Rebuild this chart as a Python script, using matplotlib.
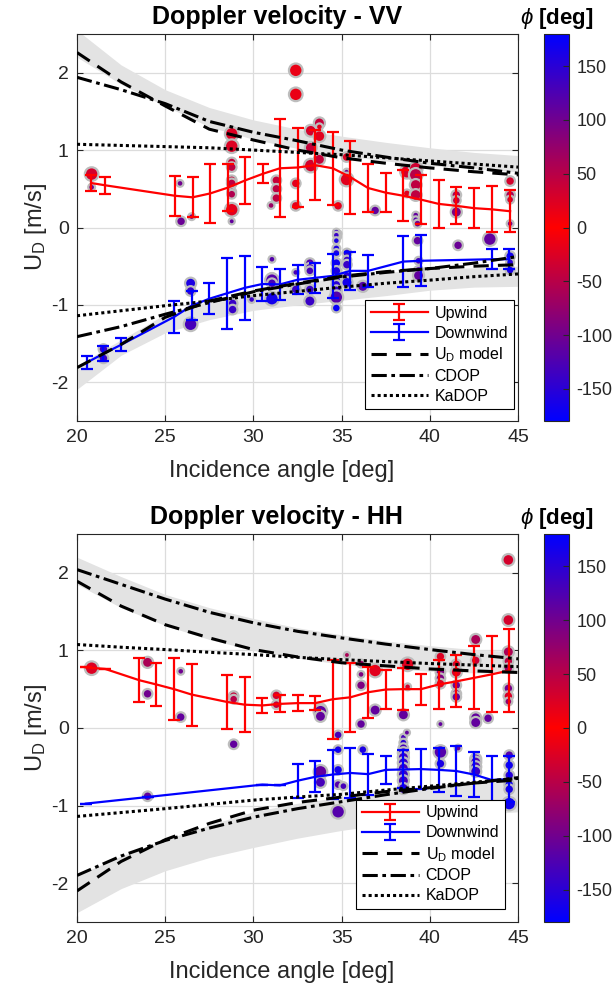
import numpy as np
import matplotlib
matplotlib.use("Agg")
import matplotlib.pyplot as plt
from matplotlib.colors import LinearSegmentedColormap

plt.rcParams['font.family'] = ['Liberation Sans', 'DejaVu Sans']
plt.rcParams['mathtext.fontset'] = 'custom'
plt.rcParams['mathtext.rm'] = 'Liberation Sans'
plt.rcParams['mathtext.it'] = 'Liberation Sans:italic'
plt.rcParams['mathtext.bf'] = 'Liberation Sans:bold'
plt.rcParams['axes.unicode_minus'] = False

# ---- model curves, read at these incidence angles ----
theta = [20, 22.5, 25, 27.5, 30, 32.5, 35, 37.5, 40, 42.5, 45]

# VV
vv_ud_up = [2.26, 1.88, 1.57, 1.27, 1.13, 1.00, 0.90, 0.83, 0.77, 0.72, 0.68]
vv_cdop_up = [1.94, 1.78, 1.60, 1.37, 1.23, 1.12, 1.00, 0.91, 0.83, 0.77, 0.70]
vv_kadop_up = [1.075, 1.06, 1.045, 1.03, 1.00, 0.97, 0.94, 0.90, 0.86, 0.82, 0.78]
vv_band_up_hi = [2.55, 2.10, 1.78, 1.55, 1.39, 1.27, 1.18, 1.10, 1.03, 0.97, 0.93]
vv_band_up_lo = [2.20, 1.85, 1.57, 1.30, 1.14, 1.02, 0.93, 0.86, 0.80, 0.76, 0.72]
vv_ud_dn = [-1.81, -1.51, -1.16, -0.95, -0.82, -0.72, -0.63, -0.57, -0.53, -0.50, -0.48]
vv_cdop_dn = [-1.41, -1.28, -1.12, -0.97, -0.83, -0.73, -0.64, -0.58, -0.53, -0.46, -0.375]
vv_kadop_dn = [-1.14, -1.075, -1.01, -0.95, -0.88, -0.825, -0.77, -0.72, -0.68, -0.635, -0.60]
vv_band_dn_lo = [-2.09, -1.65, -1.36, -1.19, -1.07, -1.00, -0.94, -0.88, -0.81, -0.77, -0.76]
vv_band_dn_hi = [-1.78, -1.45, -1.12, -0.95, -0.82, -0.72, -0.64, -0.58, -0.54, -0.52, -0.50]

# HH
hh_ud_up = [1.89, 1.57, 1.33, 1.16, 1.01, 0.915, 0.84, 0.80, 0.76, 0.735, 0.715]
hh_cdop_up = [2.04, 1.85, 1.66, 1.49, 1.355, 1.245, 1.16, 1.08, 1.01, 0.945, 0.89]
hh_kadop_up = [1.075, 1.04, 1.01, 0.975, 0.945, 0.91, 0.88, 0.855, 0.83, 0.81, 0.79]
hh_band_up_hi = [2.20, 1.95, 1.72, 1.55, 1.41, 1.29, 1.20, 1.12, 1.06, 1.01, 0.98]
hh_band_up_lo = [1.85, 1.55, 1.32, 1.14, 1.00, 0.90, 0.82, 0.77, 0.73, 0.71, 0.70]
hh_ud_dn = [-2.10, -1.72, -1.44, -1.23, -1.06, -0.96, -0.89, -0.82, -0.77, -0.71, -0.67]
hh_cdop_dn = [-1.90, -1.65, -1.45, -1.29, -1.15, -1.04, -0.95, -0.86, -0.78, -0.71, -0.64]
hh_kadop_dn = [-1.14, -1.09, -1.04, -0.985, -0.93, -0.89, -0.855, -0.80, -0.75, -0.70, -0.65]
hh_band_dn_lo = [-2.38, -2.07, -1.84, -1.67, -1.54, -1.42, -1.32, -1.24, -1.17, -1.12, -1.08]
hh_band_dn_hi = [-1.90, -1.65, -1.44, -1.25, -1.08, -0.97, -0.89, -0.82, -0.76, -0.70, -0.65]

# ---- binned means with std ----
vv_up_x = [20.8, 21.6, 25.55, 26.55, 27.55, 28.55, 29.55, 30.55, 31.5, 32.5, 33.5,
           34.5, 35.5, 36.5, 37.5, 38.5, 39.5, 40.5, 41.5, 42.5, 43.5, 44.55]
vv_up_y = [0.575, 0.545, 0.41, 0.39, 0.44, 0.515, 0.61, 0.695, 0.765, 0.775, 0.805,
           0.765, 0.65, 0.51, 0.45, 0.41, 0.36, 0.305, 0.28, 0.25, 0.235, 0.21]
vv_up_e = [0.105, 0.11, 0.26, 0.26, 0.38, 0.305, 0.30, 0.125, 0.635, 0.515, 0.455,
           0.475, 0.47, 0.31, 0.25, 0.33, 0.32, 0.315, 0.24, 0.26, 0.295, 0.27]
vv_dn_x = [20.55, 21.5, 22.5, 25.5, 26.5, 27.5, 28.5, 29.5, 30.5, 31.5, 32.5,
           33.5, 34.5, 35.5, 36.5, 38.5, 39.5, 43.5, 44.5]
vv_dn_y = [-1.745, -1.63, -1.515, -1.155, -1.01, -0.92, -0.85, -0.78, -0.73, -0.735, -0.675,
           -0.65, -0.625, -0.56, -0.56, -0.44, -0.43, -0.41, -0.41]
vv_dn_e = [0.085, 0.095, 0.085, 0.205, 0.19, 0.20, 0.455, 0.415, 0.22, 0.20, 0.185,
           0.19, 0.285, 0.25, 0.21, 0.33, 0.33, 0.13, 0.13]

hh_up_x = [20.5, 21.6, 23.53, 24.5, 25.5, 26.5, 28.5, 29.5, 30.5, 31.5, 32.5, 33.5,
           34.5, 35.5, 36.5, 37.5, 38.5, 39.5, 40.5, 41.5, 42.5, 43.5, 44.5]
hh_up_y = [0.78, 0.76, 0.615, 0.56, 0.50, 0.43, 0.335, 0.30, 0.29, 0.31, 0.32, 0.32,
           0.37, 0.395, 0.46, 0.495, 0.50, 0.50, 0.56, 0.60, 0.645, 0.69, 0.74]
hh_up_e = [0.0, 0.0, 0.285, 0.28, 0.40, 0.40, 0.35, 0.35, 0.10, 0.11, 0.105, 0.09,
           0.51, 0.445, 0.33, 0.255, 0.275, 0.20, 0.32, 0.335, 0.405, 0.49, 0.53]
hh_dn_x = [20.5, 24.0, 30.5, 31.5, 32.5, 33.5, 34.5, 35.5, 36.5, 37.5, 38.5, 39.5,
           40.5, 41.5, 42.5, 43.5, 44.5]
hh_dn_y = [-0.975, -0.89, -0.73, -0.74, -0.68, -0.63, -0.60, -0.58, -0.595, -0.54, -0.535,
           -0.53, -0.54, -0.555, -0.60, -0.67, -0.66]
hh_dn_e = [0.0, 0.0, 0.0, 0.0, 0.22, 0.20, 0.32, 0.32, 0.265, 0.18, 0.245, 0.255,
           0.28, 0.325, 0.29, 0.31, 0.30]

# ---- individual samples: incidence, U_D, phi, number of samples ----
vv_sc_x = [20.83, 20.83, 25.84, 25.9, 26.5, 28.77, 28.77, 28.77, 28.77, 28.77, 28.77, 28.77,
           28.77, 28.77, 28.77, 31.0, 31.3, 31.3, 31.3, 32.4, 32.4, 32.4, 32.4, 33.25, 33.25,
           33.25, 33.74, 33.74, 33.74, 33.74, 34.8, 35.28, 35.28, 35.28, 36.9, 38.7, 38.7,
           39.2, 39.2, 39.2, 39.2, 39.2, 39.2, 41.5, 41.5, 41.5, 44.55, 44.55, 44.55, 44.55,
           39.3, 39.3, 41.6, 43.4, 34.8, 34.8,
           21.5, 21.5, 26.44, 26.44, 26.44, 28.82, 28.82, 29.9, 31.05, 31.05, 31.05, 31.05,
           31.05, 32.4, 32.4, 33.2, 33.2, 33.2, 33.2, 33.2, 34.7, 34.7, 34.7, 34.7, 34.7,
           34.7, 34.7, 34.7, 34.7, 34.7, 34.7, 34.7, 35.3, 35.3, 35.3, 35.3, 35.3, 36.2,
           39.36, 39.36, 39.36, 44.55, 44.55, 44.55]
vv_sc_y = [0.69, 0.52, 0.57, 0.08, 0.14, 1.21, 1.05, 0.84, 0.78, 0.61, 0.57, 0.46,
           0.43, 0.23, 0.08, 0.285, 0.61, 0.50, 0.38, 2.03, 1.72, 0.57, 0.28, 1.25, 1.03,
           0.80, 1.35, 1.30, 1.18, 0.88, 0.28, 0.91, 0.72, 0.62, 0.22, 0.72, 0.44,
           0.76, 0.68, 0.55, 0.42, 0.16, 0.10, 0.42, 0.35, 0.20, 0.60, 0.42, 0.36, 0.05,
           -0.17, 0.05, -0.23, -0.15, -0.08, -0.12,
           -1.57, -1.69, -0.72, -0.82, -1.25, -0.98, -1.06, -0.93, -0.41, -0.65, -0.68, -0.72,
           -0.92, -0.58, -0.80, -0.46, -0.52, -0.56, -0.80, -0.95, -0.06, -0.10, -0.17, -0.27,
           -0.33, -0.46, -0.56, -0.68, -0.74, -0.82, -0.90, -1.04, -0.33, -0.42, -0.48, -0.63,
           -0.71, -0.76, -0.43, -0.56, -0.62, -0.37, -0.45, -0.55]
vv_sc_phi = [30, 100, 100, 105, 90, 25, 25, 40, 45, 40, 45, 50,
             55, 20, 110, 70, 40, 45, 45, 15, 15, 20, 20, 30, 40,
             30, 40, 20, 20, 40, 20, 25, 100, 20, 110, 30, 20,
             35, 50, 45, 45, 110, 120, 60, 50, 90, 30, 60, 40, 100,
             110, 100, 105, 110, 130, 150,
             140, 140, 160, 140, 130, 140, 140, 140, 120, 120, 120, 130,
             165, 130, 140, 120, 130, 130, 140, 140, 140, 140, 160, 160,
             160, 170, 160, 150, 150, 140, 120, 175, 150, 140, 140, 150,
             165, 120, 130, 120, 110, 165, 150, 160]
vv_sc_n = [60, 15, 15, 30, 15, 60, 60, 30, 30, 30, 30, 25,
           25, 60, 12, 15, 30, 30, 30, 60, 60, 30, 30, 45, 45,
           60, 40, 15, 45, 40, 30, 30, 12, 60, 30, 60, 20,
           60, 60, 45, 45, 15, 15, 30, 25, 40, 30, 30, 20, 15,
           30, 20, 30, 60, 15, 12,
           30, 30, 40, 30, 60, 30, 30, 15, 15, 30, 60, 30,
           60, 15, 30, 30, 30, 25, 30, 40, 15, 15, 15, 20,
           20, 30, 30, 30, 30, 40, 60, 25, 25, 25, 30, 30,
           40, 40, 20, 30, 40, 30, 20, 25]

hh_sc_x = [20.83, 24.0, 24.0, 25.88, 25.88, 28.88, 28.88, 28.88, 31.3, 31.3, 33.8, 33.8,
           33.8, 35.3, 36.1, 36.1, 36.1, 36.1, 36.9, 36.9, 38.5, 38.74, 38.74, 40.6, 40.6,
           40.6, 40.6, 40.6, 41.5, 41.5, 41.5, 41.5, 41.5, 42.6, 42.6, 42.6, 42.6, 43.3,
           44.45, 44.45, 44.45, 44.45, 44.45, 44.45, 44.45, 44.45,
           24.0, 33.8, 33.8, 34.8, 34.8, 34.8, 34.8, 34.8, 35.1, 36.2, 38.5, 38.5, 38.5,
           38.5, 38.5, 38.5, 38.5, 38.5, 38.5, 38.5, 38.7, 40.6, 40.6, 41.6, 42.6, 42.6,
           42.6, 42.6, 44.5, 44.5, 44.5, 44.5, 44.5, 44.5]
hh_sc_y = [0.77, 0.845, 0.44, 0.73, 0.14, 0.41, 0.37, -0.21, 0.42, 0.30, 0.24, 0.21,
           0.15, 0.94, 0.83, 0.69, 0.55, 0.05, 0.74, 0.23, 0.17, 0.82, 0.53, 0.92, 0.72,
           0.64, 0.57, 0.05, 0.82, 0.72, 0.55, 0.44, 0.40, 1.14, 0.87, 0.13, 0.07, 0.125,
           2.165, 1.39, 0.98, 0.86, 0.77, 0.51, 0.41, 0.34,
           -0.88, -0.565, -0.70, -0.09, -0.28, -0.54, -0.73, -1.08, -0.75, -0.28, -0.12, -0.19, -0.26,
           -0.32, -0.38, -0.45, -0.52, -0.60, -0.68, -0.78, -0.06, -0.31, -0.46, -0.26, -0.40, -0.44,
           -0.50, -0.56, -0.35, -0.48, -0.61, -0.73, -0.79, -0.975]
hh_sc_phi = [25, 60, 100, 100, 110, 40, 50, 110, 30, 40, 100, 110,
             110, 60, 70, 90, 90, 110, 20, 110, 110, 20, 30, 25, 90,
             90, 25, 110, 30, 25, 100, 100, 110, 60, 40, 110, 110, 110,
             30, 30, 60, 50, 70, 100, 30, 80,
             110, 110, 130, 130, 160, 165, 120, 120, 130, 160, 130, 150, 130,
             120, 130, 140, 130, 140, 130, 140, 110, 120, 160, 110, 120, 120,
             130, 140, 120, 165, 150, 170, 160, 170]
hh_sc_n = [60, 40, 30, 15, 30, 30, 25, 30, 30, 25, 45, 60,
           40, 12, 20, 15, 30, 30, 60, 40, 40, 60, 15, 30, 30,
           30, 30, 12, 30, 40, 30, 30, 30, 40, 30, 40, 40, 30,
           45, 45, 40, 30, 30, 30, 30, 20,
           30, 60, 40, 25, 25, 30, 25, 60, 20, 25, 15, 20, 30,
           40, 40, 40, 40, 40, 40, 40, 12, 60, 30, 15, 40, 40,
           40, 40, 30, 30, 30, 30, 30, 60]

# blue (-180) -> red (0) -> blue (180)
cmap = LinearSegmentedColormap.from_list("updown", [(0, 0, 1), (1, 0, 0), (0, 0, 1)])
dark = '#262626'


def draw_panel(ax, cax, title, sc, up, dn, models, loc):
    sx, sy, sphi, sn = sc
    ud_up, cdop_up, ka_up, b_up_hi, b_up_lo, ud_dn, cdop_dn, ka_dn, b_dn_lo, b_dn_hi = models

    ax.fill_between(theta, b_up_lo, b_up_hi, color='#e3e3e3', lw=0, zorder=1)
    ax.fill_between(theta, b_dn_lo, b_dn_hi, color='#e3e3e3', lw=0, zorder=1)

    pts = ax.scatter(sx, sy, c=sphi, s=np.array(sn) * 1.6, cmap=cmap, vmin=-180, vmax=180,
                     edgecolors='#bdbdbd', linewidths=1.6, zorder=2)

    h_up = ax.errorbar(up[0], up[1], yerr=up[2], color='r', lw=1.6, capsize=4.5,
                       capthick=1.6, label='Upwind', zorder=4)
    h_dn = ax.errorbar(dn[0], dn[1], yerr=dn[2], color='b', lw=1.6, capsize=4.5,
                       capthick=1.6, label='Downwind', zorder=4)

    l1, = ax.plot(theta, ud_up, 'k', ls=(0, (5, 3)), lw=2.2, label=r'U$_\mathregular{D}$ model', zorder=5)
    ax.plot(theta, ud_dn, 'k', ls=(0, (5, 3)), lw=2.2, zorder=5)
    l2, = ax.plot(theta, cdop_up, 'k', ls=(0, (5, 1.5, 1.2, 1.5)), lw=2.2, label='CDOP', zorder=5)
    ax.plot(theta, cdop_dn, 'k', ls=(0, (5, 1.5, 1.2, 1.5)), lw=2.2, zorder=5)
    l3, = ax.plot(theta, ka_up, 'k', ls=(0, (1, 1)), lw=2.2, label='KaDOP', zorder=5)
    ax.plot(theta, ka_dn, 'k', ls=(0, (1, 1)), lw=2.2, zorder=5)

    ax.set_xlim(20, 45)
    ax.set_ylim(-2.5, 2.5)
    ax.set_xticks([20, 25, 30, 35, 40, 45])
    ax.set_yticks([-2, -1, 0, 1, 2])
    ax.grid(True, color='#dcdcdc', lw=0.9)
    ax.set_axisbelow(True)
    ax.tick_params(direction='in', top=True, right=True, labelsize=14, colors=dark, length=4, pad=6)
    for s in ax.spines.values():
        s.set_color(dark)
        s.set_linewidth(0.8)
    ax.set_xlabel('Incidence angle [deg]', fontsize=17, color=dark)
    ax.xaxis.set_label_coords(0.465, -0.1)
    ax.set_ylabel(r'U$_\mathregular{D}$ [m/s]', fontsize=17, color=dark, labelpad=2)
    ax.set_title(title, fontsize=18, fontweight='bold', pad=7, x=0.453)

    leg = ax.legend(handles=[h_up, h_dn, l1, l2, l3], loc='lower right', bbox_to_anchor=loc,
                    fontsize=11.5, fancybox=False, framealpha=1, edgecolor='k',
                    handlelength=3.6, borderpad=0.35, labelspacing=0.3, handletextpad=0.4,
                    borderaxespad=0)
    leg.get_frame().set_linewidth(0.8)

    cb = plt.colorbar(pts, cax=cax)
    cb.set_ticks([-150, -100, -50, 0, 50, 100, 150])
    cb.ax.tick_params(direction='in', labelsize=13, colors=dark, length=4, pad=5)
    cb.outline.set_edgecolor(dark)
    cb.outline.set_linewidth(0.8)
    cax.set_title(r'$\phi$ [deg]', fontsize=16, fontweight='bold', pad=7)


fig = plt.figure(figsize=(6.16, 9.90), dpi=100)
ax1 = fig.add_axes([0.125, 0.5747, 0.716, 0.391])
cax1 = fig.add_axes([0.883, 0.5747, 0.041, 0.391])
ax2 = fig.add_axes([0.125, 0.0687, 0.716, 0.392])
cax2 = fig.add_axes([0.883, 0.0687, 0.041, 0.392])

draw_panel(ax1, cax1, 'Doppler velocity - VV',
           (vv_sc_x, vv_sc_y, vv_sc_phi, vv_sc_n),
           (vv_up_x, vv_up_y, vv_up_e), (vv_dn_x, vv_dn_y, vv_dn_e),
           (vv_ud_up, vv_cdop_up, vv_kadop_up, vv_band_up_hi, vv_band_up_lo,
            vv_ud_dn, vv_cdop_dn, vv_kadop_dn, vv_band_dn_lo, vv_band_dn_hi),
           (0.99, 0.03))
draw_panel(ax2, cax2, 'Doppler velocity - HH',
           (hh_sc_x, hh_sc_y, hh_sc_phi, hh_sc_n),
           (hh_up_x, hh_up_y, hh_up_e), (hh_dn_x, hh_dn_y, hh_dn_e),
           (hh_ud_up, hh_cdop_up, hh_kadop_up, hh_band_up_hi, hh_band_up_lo,
            hh_ud_dn, hh_cdop_dn, hh_kadop_dn, hh_band_dn_lo, hh_band_dn_hi),
           (0.97, 0.034))

fig.savefig('out.png', dpi=100)
